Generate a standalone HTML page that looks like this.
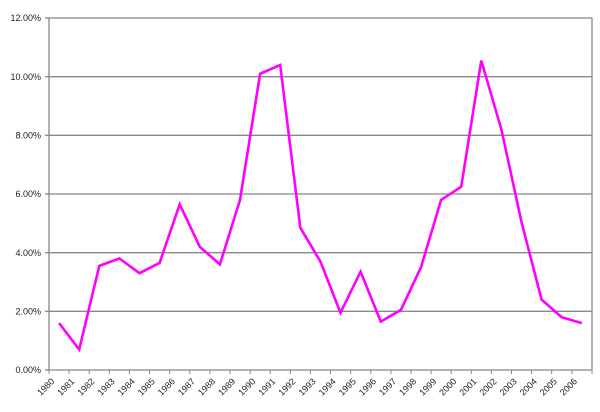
<!DOCTYPE html>
<html><head><style>body{margin:0;background:#fff}svg{display:block}text{font-family:"Liberation Sans",Arial,sans-serif;font-size:9px;fill:#222}</style></head>
<body>
<svg width="600" height="412" xmlns="http://www.w3.org/2000/svg">
<g stroke="#888" stroke-width="1.3">
<line x1="49" y1="18" x2="592" y2="18"/>
<line x1="49" y1="76.7" x2="592" y2="76.7"/>
<line x1="49" y1="135.3" x2="592" y2="135.3"/>
<line x1="49" y1="194" x2="592" y2="194"/>
<line x1="49" y1="252.7" x2="592" y2="252.7"/>
<line x1="49" y1="311.3" x2="592" y2="311.3"/>
<line x1="49" y1="370" x2="592" y2="370"/>
<line x1="49" y1="18" x2="49" y2="370"/>
<line x1="592" y1="18" x2="592" y2="370"/>
<line x1="45" y1="18" x2="49" y2="18"/><line x1="45" y1="76.7" x2="49" y2="76.7"/><line x1="45" y1="135.3" x2="49" y2="135.3"/><line x1="45" y1="194" x2="49" y2="194"/><line x1="45" y1="252.7" x2="49" y2="252.7"/><line x1="45" y1="311.3" x2="49" y2="311.3"/><line x1="45" y1="370" x2="49" y2="370"/>
</g>
<g stroke="#888" stroke-width="1">
<path d="M49 370v4M69.1 370v4M89.2 370v4M109.3 370v4M129.4 370v4M149.5 370v4M169.7 370v4M189.8 370v4M209.9 370v4M230 370v4M250.1 370v4M270.2 370v4M290.3 370v4M310.4 370v4M330.5 370v4M350.7 370v4M370.8 370v4M390.9 370v4M411 370v4M431.1 370v4M451.2 370v4M471.3 370v4M491.4 370v4M511.5 370v4M531.6 370v4M551.7 370v4M571.9 370v4M592 370v4"/>
</g>
<g text-anchor="end">
<text x="41" y="21">12.00%</text><text x="41" y="80">10.00%</text><text x="41" y="138.5">8.00%</text><text x="41" y="197">6.00%</text><text x="41" y="256">4.00%</text><text x="41" y="314.5">2.00%</text><text x="41" y="373">0.00%</text>
<text transform="translate(55,382) rotate(-45)">1980</text>
<text transform="translate(75.1,382) rotate(-45)">1981</text>
<text transform="translate(95.2,382) rotate(-45)">1982</text>
<text transform="translate(115.3,382) rotate(-45)">1983</text>
<text transform="translate(135.4,382) rotate(-45)">1984</text>
<text transform="translate(155.5,382) rotate(-45)">1985</text>
<text transform="translate(175.6,382) rotate(-45)">1986</text>
<text transform="translate(195.7,382) rotate(-45)">1987</text>
<text transform="translate(215.8,382) rotate(-45)">1988</text>
<text transform="translate(235.9,382) rotate(-45)">1989</text>
<text transform="translate(256,382) rotate(-45)">1990</text>
<text transform="translate(276.1,382) rotate(-45)">1991</text>
<text transform="translate(296.2,382) rotate(-45)">1992</text>
<text transform="translate(316.3,382) rotate(-45)">1993</text>
<text transform="translate(336.4,382) rotate(-45)">1994</text>
<text transform="translate(356.5,382) rotate(-45)">1995</text>
<text transform="translate(376.7,382) rotate(-45)">1996</text>
<text transform="translate(396.8,382) rotate(-45)">1997</text>
<text transform="translate(416.9,382) rotate(-45)">1998</text>
<text transform="translate(437,382) rotate(-45)">1999</text>
<text transform="translate(457.1,382) rotate(-45)">2000</text>
<text transform="translate(477.2,382) rotate(-45)">2001</text>
<text transform="translate(497.3,382) rotate(-45)">2002</text>
<text transform="translate(517.4,382) rotate(-45)">2003</text>
<text transform="translate(537.5,382) rotate(-45)">2004</text>
<text transform="translate(557.6,382) rotate(-45)">2005</text>
<text transform="translate(577.7,382) rotate(-45)">2006</text>
</g>
<polyline fill="none" stroke="#ff00ff" stroke-width="2.6" stroke-linejoin="miter" points="59.1,323.1 79.2,349.5 99.3,265.9 119.4,258.5 139.5,273.2 159.6,262.9 179.7,204.3 199.8,246.8 219.9,264.4 240,199.9 260.1,73.8 280.2,65 300.3,227.7 320.4,261.5 340.5,312.8 360.6,271.7 380.8,321.6 400.9,309.9 421,267.3 441.1,199.9 461.2,186.7 481.3,60.6 501.4,129.5 521.5,221.9 541.6,299.6 561.7,317.2 581.8,323.1"/>
</svg>
</body></html>
